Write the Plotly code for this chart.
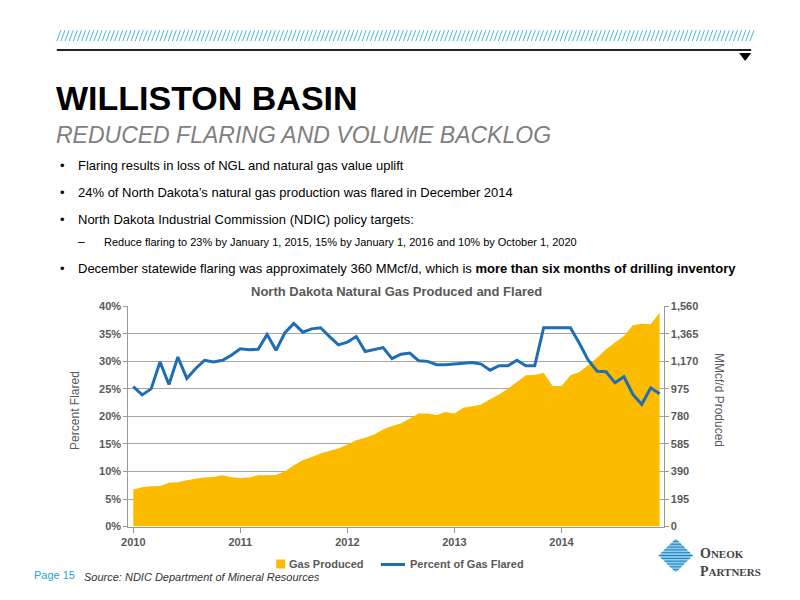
import plotly.graph_objects as go

months = list(range(60))
produced = [262,279,286,288,310,314,329,338,348,352,364,350,345,348,364,364,366,392,435,470,
            492,518,537,553,582,612,629,652,688,712,730,766,801,801,790,811,801,842,853,865,
            901,936,976,1024,1071,1073,1090,995,995,1071,1095,1142,1196,1255,1303,1350,1426,1437,1433,1515]
flared = [25.4,23.9,25.0,29.9,25.8,30.8,26.9,28.7,30.2,29.9,30.2,31.1,32.3,32.1,32.2,34.9,32.0,35.2,36.9,35.3,
          35.9,36.1,34.5,33.0,33.5,34.5,31.8,32.1,32.5,30.5,31.3,31.5,30.1,30.0,29.4,29.4,29.5,29.6,29.8,29.5,
          28.4,29.2,29.2,30.2,29.2,29.2,36.1,36.1,36.1,36.1,33.3,30.2,28.2,28.1,26.1,27.2,24.0,22.2,25.2,24.1]
year_ticks = [0, 12, 24, 36, 48]
year_labels = ["2010", "2011", "2012", "2013", "2014"]
pct_ticks = [0, 5, 10, 15, 20, 25, 30, 35, 40]
vol_ticks = [0, 195, 390, 585, 780, 975, 1170, 1365, 1560]

W, H = 800, 600
# compensation for observed render offset/scale
def cx(x): return (x - 12.5) / 0.985
def cy(y): return (y - 4.8) / 0.983
def px(x): return cx(x) / W
def py(y): return 1 - cy(y) / H

GOLD = "#FDBB00"
BLUE = "#1F6EB5"
GREY = "#595959"
NARROW = "Liberation Sans Narrow, Arial Narrow, Liberation Sans, sans-serif"

fig = go.Figure()
fig.add_trace(go.Scatter(x=months, y=produced, fill="tozeroy", mode="none", fillcolor=GOLD,
                         name="Gas Produced", yaxis="y", showlegend=False))
fig.add_trace(go.Scatter(x=months, y=flared, mode="lines", line=dict(color=BLUE, width=3),
                         name="Percent of Gas Flared", yaxis="y2", showlegend=False))

tickfont = dict(family="Liberation Sans, Arial", size=11, color=GREY)
fig.update_layout(
    autosize=True, margin=dict(l=0, r=0, t=0, b=0),
    plot_bgcolor="white", paper_bgcolor="white", showlegend=False,
    xaxis=dict(domain=[px(133), px(665)], range=[-0.56, 59.45], tickvals=year_ticks,
               ticktext=[f"<b>{t}</b>" for t in year_labels],
               showgrid=False, zeroline=False, showline=True, linecolor="#999", ticks="outside",
               tickcolor="#999", ticklen=5, tickfont=tickfont),
    yaxis=dict(domain=[py(527), py(306)], side="right", range=[0, 1560], tickvals=vol_ticks,
               ticktext=[f"<b>{v:,}</b>" for v in vol_ticks], showgrid=True, gridcolor="#A6A6A6",
               zeroline=False, showline=True, linecolor="#999", ticks="outside", tickcolor="#999",
               ticklen=4, tickfont=tickfont),
    yaxis2=dict(overlaying="y", side="left", range=[0, 40], tickvals=pct_ticks,
                ticktext=[f"<b>{v}%</b>" for v in pct_ticks], showgrid=False, zeroline=False,
                showline=True, linecolor="#999", ticks="outside", tickcolor="#999", ticklen=4,
                tickfont=tickfont),
)

ann = []
def text(x, y, s, size, color="black", bold=False, italic=False, family=NARROW, anchor="left", angle=0):
    if bold: s = f"<b>{s}</b>"
    if italic: s = f"<i>{s}</i>"
    ann.append(dict(x=px(x), y=py(y), xref="paper", yref="paper", text=s, showarrow=False,
                    xanchor=anchor, yanchor="middle", textangle=angle, borderpad=0,
                    font=dict(size=size, color=color, family=family)))

text(60, 97, "WILLISTON BASIN", 34, bold=True, family="Liberation Sans, Arial")
text(60, 134, "REDUCED FLARING AND VOLUME BACKLOG", 23, color="#7F7F7F", italic=True, family="Liberation Sans, Arial")
text(64, 165, "•", 13)
text(82, 165, "Flaring results in loss of NGL and natural gas value uplift", 13)
text(64, 192, "•", 13)
text(82, 192, "24% of North Dakota’s natural gas production was flared in December 2014", 13)
text(64, 219, "•", 13)
text(82, 219, "North Dakota Industrial Commission (NDIC) policy targets:", 13)
text(82, 242, "–", 12)
text(108, 242, "Reduce flaring to 23% by January 1, 2015, 15% by January 1, 2016 and 10% by October 1, 2020", 11)
text(64, 268, "•", 13)
text(82, 268, "December statewide flaring was approximately 360 MMcf/d, which is <b>more than six months of drilling inventory</b>", 13)
text(400, 291, "North Dakota Natural Gas Produced and Flared", 13, color=GREY, bold=True,
     family="Liberation Sans, Arial", anchor="center")
text(80, 410, "Percent Flared", 12, color=GREY, anchor="center", angle=-90)
text(720, 400, "MMcf/d Produced", 12, color=GREY, anchor="center", angle=90)
text(292, 565, "Gas Produced", 11, color=GREY, bold=True, family="Liberation Sans, Arial")
text(412, 565, "Percent of Gas Flared", 11, color=GREY, bold=True, family="Liberation Sans, Arial")
text(38, 576, "Page 15", 11, color="#2A9FD8", family="Liberation Sans, Arial")
text(88, 578, "Source: NDIC Department of Mineral Resources", 11, color="#333", italic=True)
text(700, 554, "<b>O<span style='font-size:11px'>NEOK</span></b>", 14, color="#444", family="Liberation Serif, serif")
text(700, 572, "<b>P<span style='font-size:11px'>ARTNERS</span></b>", 14, color="#444", family="Liberation Serif, serif")
fig.update_layout(annotations=ann)

shapes = []
x = 62
while x < 752:
    shapes.append(dict(type="line", xref="paper", yref="paper", x0=px(x), y0=py(40), x1=px(x + 4), y1=py(29),
                       line=dict(color="#4BB8E0", width=1)))
    x += 4.1
shapes.append(dict(type="line", xref="paper", yref="paper", x0=px(62), y0=py(49), x1=px(752), y1=py(49),
                   line=dict(color="#222", width=2)))
shapes.append(dict(type="path", xref="paper", yref="paper",
                   path=f"M {px(740)} {py(52)} L {px(752)} {py(52)} L {px(746)} {py(60)} Z",
                   fillcolor="black", line=dict(width=0)))
shapes.append(dict(type="rect", xref="paper", yref="paper", x0=px(280), y0=py(569), x1=px(289), y1=py(560),
                   fillcolor=GOLD, line=dict(width=0)))
shapes.append(dict(type="line", xref="paper", yref="paper", x0=px(384), y0=py(565), x1=px(408), y1=py(565),
                   line=dict(color=BLUE, width=3)))
shapes.append(dict(type="path", xref="paper", yref="paper",
                   path=f"M {px(677)} {py(539)} L {px(694)} {py(556)} L {px(677)} {py(573)} L {px(660)} {py(556)} Z",
                   fillcolor="#8CCBEA", line=dict(width=0)))
for i in range(1, 12):
    yy = 539 + i * 34 / 12
    half = 17 - abs(yy - 556)
    shapes.append(dict(type="line", xref="paper", yref="paper", x0=px(677 - half), y0=py(yy), x1=px(677 + half), y1=py(yy),
                       line=dict(color="#1E7FC0", width=1)))
fig.update_layout(shapes=shapes)

fig.write_html("out.html", config={"displayModeBar": False, "responsive": True},
               default_width="100vw", default_height="100vh",
               post_script="document.body.style.margin='0';document.body.style.overflow='hidden';")
